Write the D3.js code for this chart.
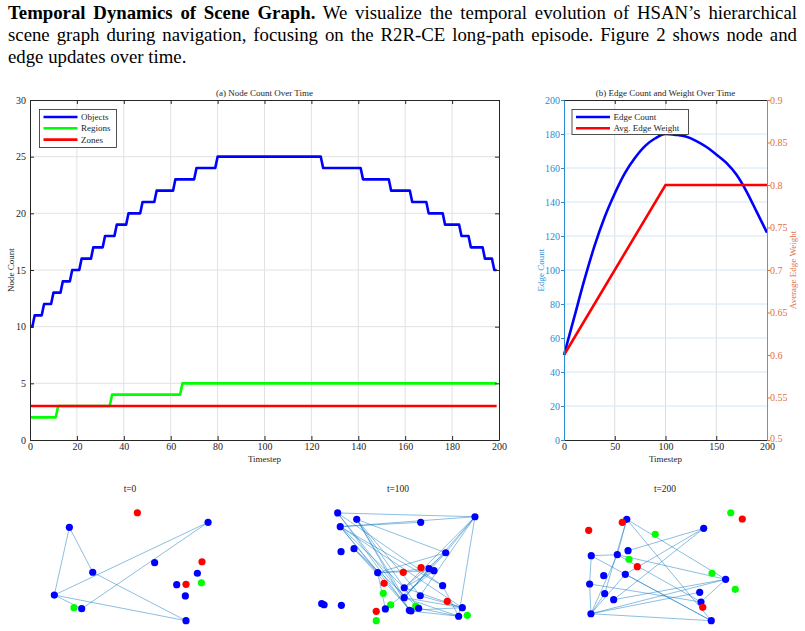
<!DOCTYPE html>
<html>
<head>
<meta charset="utf-8">
<script src="https://cdn.jsdelivr.net/npm/d3@7"></script>
<style>
  body { margin: 0; background: #fff; width: 805px; height: 631px; overflow: hidden;
         font-family: "Liberation Serif", "Times New Roman", serif; }
  #caption { position: absolute; left: 8px; top: 2px; width: 789px; font-size: 18.8px; line-height: 22px; color: #000; }
  #caption div { text-align: justify; text-align-last: justify; white-space: nowrap; }
  #caption div.last { text-align-last: left; }
  #chart { position: absolute; left: 0; top: 0; }
</style>
</head>
<body>
<div id="caption">
  <div><b>Temporal Dynamics of Scene Graph.</b> We visualize the temporal evolution of HSAN’s hierarchical</div>
  <div>scene graph during navigation, focusing on the R2R-CE long-path episode. Figure 2 shows node and</div>
  <div class="last">edge updates over time.</div>
</div>
<div id="chart"></div>
<script>
// ---------- data ----------
// (a) node counts: level and the timestep at which each level begins
const objectLevels = [10, 11, 12, 13, 14, 15, 16, 17, 18, 19, 20, 21, 22, 23, 24, 25, 24, 23, 22, 21, 20, 19, 18, 17, 16, 15];
const objectStarts = [0, 2, 6, 10, 14, 18, 22, 27, 32, 37, 42, 48, 54, 62, 71, 80, 125, 142, 154, 163, 170, 177, 184, 188, 194, 198];
const regionLevels = [2, 3, 4, 5];
const regionStarts = [0, 12, 35, 65];
const zoneLevels = [3];
const zoneStarts = [0];
const LAST_STEP = 199;

// (b) edge count and average weight
const edgeSteps = [0, 10, 20, 30, 40, 50, 60, 70, 80, 90, 100, 110, 120, 130, 140, 150, 160, 170, 180, 190, 200];
const edgeCounts = [50, 72, 94, 114, 131, 145, 157, 166, 173, 177.5, 180, 179.5, 178.5, 176, 172.5, 168, 163, 156, 146, 134, 122];
const weightSteps = [0, 100, 200];
const weightValues = [0.6, 0.8, 0.8];

const xTicksA = [0, 20, 40, 60, 80, 100, 120, 140, 160, 180, 200];
const yTicksA = [0, 5, 10, 15, 20, 25, 30];
const xTicksB = [0, 50, 100, 150, 200];
const yTicksLeftB = [0, 20, 40, 60, 80, 100, 120, 140, 160, 180, 200];
const yTicksRightB = [0.5, 0.55, 0.6, 0.65, 0.7, 0.75, 0.8, 0.85, 0.9];

// scene graph snapshots (normalised layout positions)
const snapTitles = ['t=0', 't=100', 't=200'];

const objects0 = [[0.121,0.848],[0.988,0.892],[0.654,0.538],[0.921,0.445],[0.267,0.454],[0.792,0.345],[0.846,0.246],[0.027,0.254],[0.198,0.134],[0.850,0.029]];
const regions0 = [[0.946,0.362],[0.150,0.143]];
const zones0 = [[0.546,0.976],[0.950,0.546],[0.850,0.348]];
const edges0 = [[0,4],[0,7],[7,1],[8,1],[4,9],[7,9],[7,8]];

const objects100 = [[0.123,0.974],[0.242,0.918],[0.139,0.854],[0.642,0.892],[0.981,0.941],[0.144,0.634],[0.225,0.661],[0.798,0.625],
                    [0.373,0.450],[0.694,0.485],[0.725,0.468],[0.779,0.336],[0.539,0.318],[0.639,0.248],[0.539,0.231],[0.023,0.178],
                    [0.038,0.169],[0.146,0.164],[0.421,0.132],[0.571,0.120],[0.581,0.114],[0.629,0.138],[0.902,0.143],[0.879,0.068]];
const regions100 = [[0.408,0.269],[0.454,0.167],[0.611,0.158],[0.933,0.076],[0.364,0.029]];
const zones100 = [[0.533,0.453],[0.644,0.494],[0.413,0.357],[0.808,0.199],[0.364,0.111]];
const edges100 = [[0,4],[2,4],[1,7],[2,3],[0,19],[0,14],[2,8],[2,12],[2,20],[2,11],[2,22],[1,19],[1,14],[1,13],
                  [6,8],[6,20],[6,21],[4,7],[4,12],[4,14],[4,13],[4,23],[7,8],[7,12],[7,14],[8,10],[8,9],[8,18],
                  [12,22],[14,22],[13,22],[19,22],[11,23],[20,23],[12,21],[9,14],[10,12],[10,18],[0,11],[1,12],[21,23],[14,23]];

const objects200 = [[0.261,0.918],[0.742,0.839],[0.269,0.643],[0.039,0.599],[0.202,0.608],[0.117,0.424],[0.252,0.436],[0.029,0.351],
                    [0.879,0.392],[0.123,0.266],[0.179,0.213],[0.717,0.278],[0.725,0.193],[0.037,0.090],[0.789,0.029]];
const regions200 = [[0.439,0.787],[0.275,0.568],[0.794,0.445],[0.911,0.976],[0.939,0.304]];
const zones200 = [[0.023,0.822],[0.233,0.892],[0.327,0.503],[0.736,0.146],[0.983,0.921]];
const edges200 = [[0,4],[0,9],[0,14],[0,8],[3,4],[3,7],[7,13],[3,14],[2,1],[4,8],[1,10],[1,6],[13,8],[13,9],
                  [13,6],[13,4],[13,11],[13,14],[7,12],[10,8],[6,14],[4,12],[8,12]];

// ---------- setup ----------
const WIDTH = 805, HEIGHT = 631;
const AXIS = '#262626';
const GRID = '#e2e2e2';
const LEFT_C = '#2b8bd0';
const RIGHT_C = '#e07040';
const FONT = '"Liberation Serif", "Times New Roman", serif';

const svg = d3.select('#chart').append('svg')
  .attr('width', WIDTH).attr('height', HEIGHT)
  .style('font-family', FONT);

// turn level/start lists into polyline vertices with one-step transitions
const stepPoints = (levels, starts) => {
  const pts = [];
  levels.forEach((v, i) => {
    const end = i < levels.length - 1 ? starts[i + 1] - 1 : LAST_STEP;
    pts.push([starts[i], v], [end, v]);
  });
  return pts;
};

const styleAxis = (g, color, size) => {
  g.select('.domain').attr('stroke', color).attr('stroke-width', 1);
  g.selectAll('.tick line').attr('stroke', color);
  g.selectAll('.tick text').attr('fill', color).style('font-size', size + 'px').style('font-family', FONT);
};

// ---------- (a) node count ----------
const A = { left: 30, right: 499, top: 100, bottom: 440 };
const xA = d3.scaleLinear().domain([0, 200]).range([A.left, A.right]);
const yA = d3.scaleLinear().domain([0, 30]).range([A.bottom, A.top]);
const ga = svg.append('g');

ga.selectAll('.vgrid').data(xTicksA.slice(1, -1)).enter().append('line')
  .attr('x1', d => xA(d)).attr('x2', d => xA(d))
  .attr('y1', A.top).attr('y2', A.bottom)
  .attr('stroke', GRID);
ga.selectAll('.hgrid').data(yTicksA.slice(1, -1)).enter().append('line')
  .attr('x1', A.left).attr('x2', A.right)
  .attr('y1', d => yA(d)).attr('y2', d => yA(d))
  .attr('stroke', GRID);

const lineA = d3.line().x(d => xA(d[0])).y(d => yA(d[1]));
const seriesA = [
  { name: 'Objects', color: '#0000ff', pts: stepPoints(objectLevels, objectStarts) },
  { name: 'Regions', color: '#00ff00', pts: stepPoints(regionLevels, regionStarts) },
  { name: 'Zones', color: '#ff0000', pts: stepPoints(zoneLevels, zoneStarts) }
];
ga.selectAll('.series').data(seriesA).enter().append('path')
  .attr('d', d => lineA(d.pts))
  .attr('fill', 'none')
  .attr('stroke', d => d.color)
  .attr('stroke-width', 2.6)
  .attr('stroke-linejoin', 'round');

ga.append('g').attr('transform', `translate(0,${A.bottom})`)
  .call(d3.axisBottom(xA).tickValues(xTicksA).tickSizeInner(-4).tickSizeOuter(0).tickPadding(3))
  .call(g => styleAxis(g, AXIS, 10));
ga.append('g').attr('transform', `translate(0,${A.top})`)
  .call(d3.axisTop(xA).tickValues(xTicksA).tickSizeInner(-4).tickSizeOuter(0).tickFormat(''))
  .call(g => styleAxis(g, AXIS, 10));
ga.append('g').attr('transform', `translate(${A.left},0)`)
  .call(d3.axisLeft(yA).tickValues(yTicksA).tickSizeInner(-4).tickSizeOuter(0).tickPadding(4))
  .call(g => styleAxis(g, AXIS, 10));
ga.append('g').attr('transform', `translate(${A.right},0)`)
  .call(d3.axisRight(yA).tickValues(yTicksA).tickSizeInner(-4).tickSizeOuter(0).tickFormat(''))
  .call(g => styleAxis(g, AXIS, 10));

ga.append('text').attr('x', (A.left + A.right) / 2).attr('y', 96)
  .attr('text-anchor', 'middle').style('font-size', '9px').attr('fill', AXIS)
  .text('(a) Node Count Over Time');
ga.append('text').attr('x', (A.left + A.right) / 2).attr('y', 462)
  .attr('text-anchor', 'middle').style('font-size', '9px').attr('fill', AXIS)
  .text('Timestep');
ga.append('text').attr('transform', `translate(14,${(A.top + A.bottom) / 2}) rotate(-90)`)
  .attr('text-anchor', 'middle').style('font-size', '9px').attr('fill', AXIS)
  .text('Node Count');

const legA = ga.append('g').attr('transform', 'translate(39.5,109.5)');
legA.append('rect').attr('width', 77).attr('height', 38)
  .attr('fill', '#fff').attr('stroke', AXIS).attr('stroke-width', 0.8);
seriesA.forEach((s, i) => {
  const y = 7.5 + i * 11.3;
  legA.append('line').attr('x1', 4).attr('x2', 38).attr('y1', y).attr('y2', y)
    .attr('stroke', s.color).attr('stroke-width', 2.6);
  legA.append('text').attr('x', 41.5).attr('y', y).attr('dy', '0.35em')
    .style('font-size', '9px').attr('fill', AXIS).text(s.name);
});

// ---------- (b) edge count and weight ----------
const B = { left: 564, right: 767, top: 100, bottom: 440 };
const xB = d3.scaleLinear().domain([0, 200]).range([B.left, B.right]);
const yBL = d3.scaleLinear().domain([0, 200]).range([B.bottom, B.top]);
const yBR = d3.scaleLinear().domain([0.5, 0.9]).range([B.bottom, B.top]);
const gb = svg.append('g');

gb.selectAll('.vgrid').data(xTicksB.slice(1, -1)).enter().append('line')
  .attr('x1', d => xB(d)).attr('x2', d => xB(d))
  .attr('y1', B.top).attr('y2', B.bottom)
  .attr('stroke', '#dcdde2');
gb.selectAll('.hgrid').data(yTicksLeftB.slice(1, -1)).enter().append('line')
  .attr('x1', B.left).attr('x2', B.right)
  .attr('y1', d => yBL(d)).attr('y2', d => yBL(d))
  .attr('stroke', '#d6e6f4');

const edgeLine = d3.line().x((d, i) => xB(edgeSteps[i])).y(d => yBL(d)).curve(d3.curveMonotoneX);
const weightLine = d3.line().x((d, i) => xB(weightSteps[i])).y(d => yBR(d));
gb.append('path').attr('d', edgeLine(edgeCounts))
  .attr('fill', 'none').attr('stroke', '#0000ff').attr('stroke-width', 2.6);
gb.append('path').attr('d', weightLine(weightValues))
  .attr('fill', 'none').attr('stroke', '#ff0000').attr('stroke-width', 2.6);

gb.append('g').attr('transform', `translate(0,${B.bottom})`)
  .call(d3.axisBottom(xB).tickValues(xTicksB).tickSizeInner(-4).tickSizeOuter(0).tickPadding(3))
  .call(g => styleAxis(g, AXIS, 10));
gb.append('g').attr('transform', `translate(0,${B.top})`)
  .call(d3.axisTop(xB).tickValues(xTicksB).tickSizeInner(-4).tickSizeOuter(0).tickFormat(''))
  .call(g => styleAxis(g, AXIS, 10));
gb.append('g').attr('transform', `translate(${B.left},0)`)
  .call(d3.axisLeft(yBL).tickValues(yTicksLeftB).tickSizeInner(3).tickSizeOuter(0).tickPadding(1))
  .call(g => styleAxis(g, LEFT_C, 10));
gb.append('g').attr('transform', `translate(${B.right},0)`)
  .call(d3.axisRight(yBR).tickValues(yTicksRightB).tickSizeInner(3).tickSizeOuter(0).tickPadding(0)
    .tickFormat(d => String(+d.toFixed(2))))
  .call(g => styleAxis(g, RIGHT_C, 10))
  .call(g => g.selectAll('.tick text').filter(d => d === 0.5).attr('dy', '0.1em'));

gb.append('text').attr('x', (B.left + B.right) / 2).attr('y', 96)
  .attr('text-anchor', 'middle').style('font-size', '9px').attr('fill', AXIS)
  .text('(b) Edge Count and Weight Over Time');
gb.append('text').attr('x', (B.left + B.right) / 2).attr('y', 462)
  .attr('text-anchor', 'middle').style('font-size', '9px').attr('fill', AXIS)
  .text('Timestep');
gb.append('text').attr('transform', `translate(544,${(B.top + B.bottom) / 2}) rotate(-90)`)
  .attr('text-anchor', 'middle').style('font-size', '9px').attr('fill', LEFT_C)
  .text('Edge Count');
gb.append('text').attr('transform', `translate(796,${(B.top + B.bottom) / 2}) rotate(-90)`)
  .attr('text-anchor', 'middle').style('font-size', '9px').attr('fill', RIGHT_C)
  .text('Average Edge Weight');

const seriesB = [
  { name: 'Edge Count', color: '#0000ff' },
  { name: 'Avg. Edge Weight', color: '#ff0000' }
];
const legB = gb.append('g').attr('transform', 'translate(572,109.5)');
legB.append('rect').attr('width', 116.5).attr('height', 25)
  .attr('fill', '#fff').attr('stroke', AXIS).attr('stroke-width', 0.8);
seriesB.forEach((s, i) => {
  const y = 7.5 + i * 11.3;
  legB.append('line').attr('x1', 4).attr('x2', 38).attr('y1', y).attr('y2', y)
    .attr('stroke', s.color).attr('stroke-width', 2.6);
  legB.append('text').attr('x', 41.5).attr('y', y).attr('dy', '0.35em')
    .style('font-size', '9px').attr('fill', AXIS).text(s.name);
});

// ---------- scene graph snapshots ----------
const snapshots = [
  { objects: objects0, regions: regions0, zones: zones0, edges: edges0 },
  { objects: objects100, regions: regions100, zones: zones100, edges: edges100 },
  { objects: objects200, regions: regions200, zones: zones200, edges: edges200 }
];
const SNAP_LEFT = [50, 318, 585];
const SNAP_W = 160;

snapshots.forEach((snap, k) => {
  const sx = d3.scaleLinear().domain([0, 1]).range([SNAP_LEFT[k], SNAP_LEFT[k] + SNAP_W]);
  const sy = d3.scaleLinear().domain([0, 1]).range([624, 510]);
  const g = svg.append('g');

  g.append('text').attr('x', SNAP_LEFT[k] + SNAP_W / 2).attr('y', 492)
    .attr('text-anchor', 'middle').style('font-size', '9.5px').attr('fill', AXIS)
    .text(snapTitles[k]);

  g.selectAll('.edge').data(snap.edges).enter().append('line')
    .attr('x1', d => sx(snap.objects[d[0]][0])).attr('y1', d => sy(snap.objects[d[0]][1]))
    .attr('x2', d => sx(snap.objects[d[1]][0])).attr('y2', d => sy(snap.objects[d[1]][1]))
    .attr('stroke', '#0072bd').attr('stroke-opacity', 0.5).attr('stroke-width', 0.9);

  const dots = (pts, color) => g.selectAll(null).data(pts).enter().append('circle')
    .attr('cx', d => sx(d[0])).attr('cy', d => sy(d[1])).attr('r', 3.6).attr('fill', color);
  dots(snap.regions, '#00ff00');
  dots(snap.objects, '#0000ff');
  dots(snap.zones, '#ff0000');
});
</script>
</body>
</html>
